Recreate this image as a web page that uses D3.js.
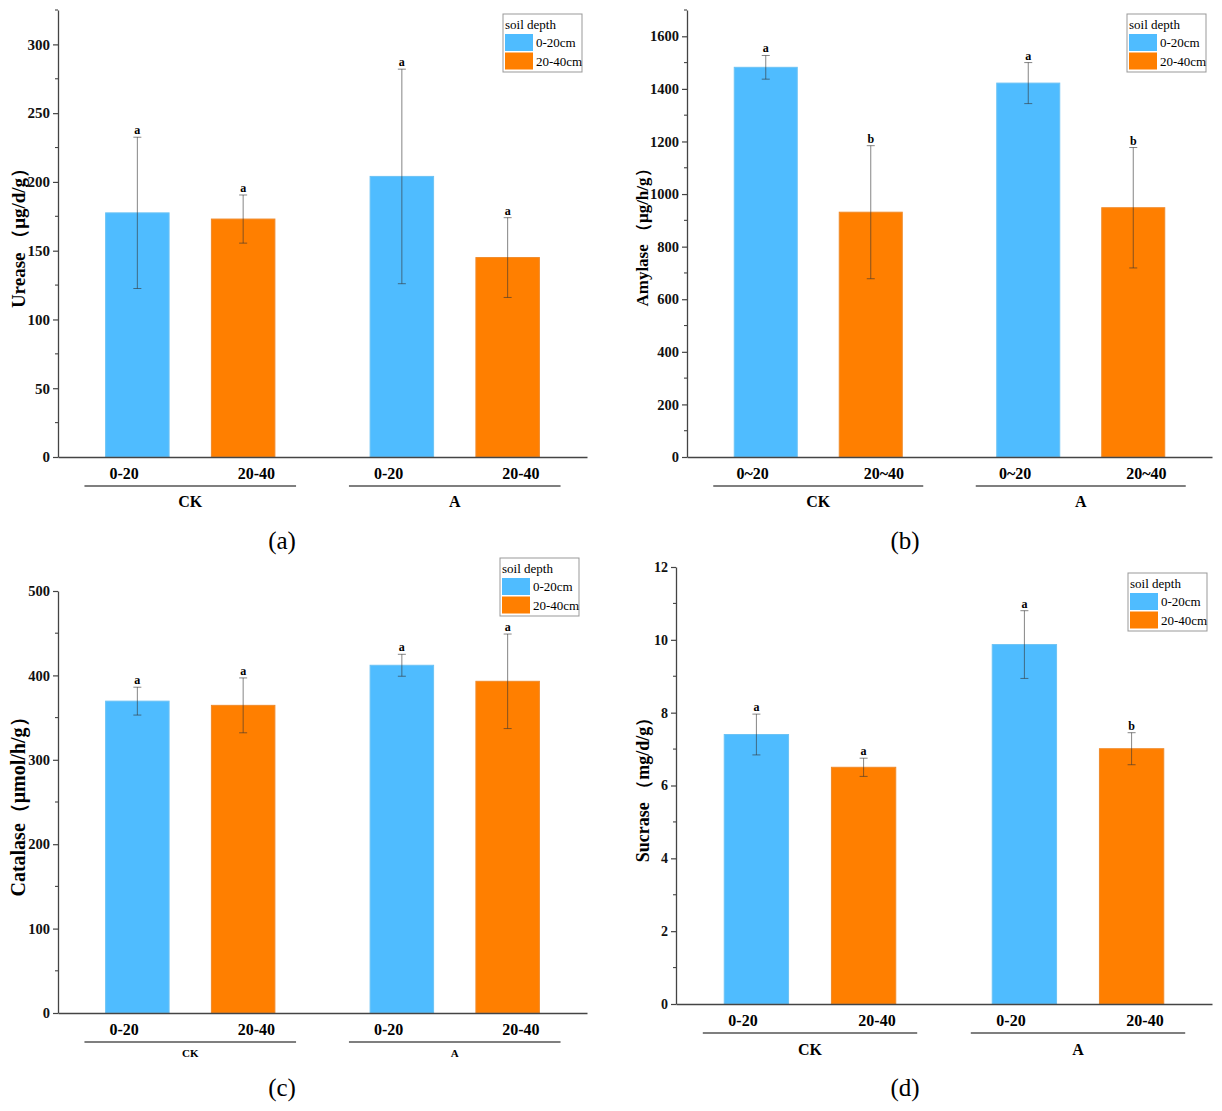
<!DOCTYPE html>
<html>
<head>
<meta charset="utf-8">
<script src="https://cdn.jsdelivr.net/npm/d3@7"></script>
<style>
  body { margin: 0; background: #fff; }
  text { font-family: "Liberation Serif", "Times New Roman", serif; }
</style>
</head>
<body>
<svg id="chart"></svg>
<script>
// categories
const groups = ['CK', 'A'];
const depthDash = ['0-20', '20-40'];
const depthTilde = ['0~20', '20~40'];
const legendLabels = ['0-20cm', '20-40cm'];
const colors = ['#4fbcff', '#ff7f00'];

// bars in order: CK 0-20, CK 20-40, A 0-20, A 20-40
const urease = [177.5, 173, 204, 145];
const ureaseErr = [55, 17.5, 78, 29];
const ureaseSig = ['a', 'a', 'a', 'a'];
const ureaseTicks = [0, 50, 100, 150, 200, 250, 300];

const amylase = [1482, 931, 1422, 948];
const amylaseErr = [45, 253, 78, 229];
const amylaseSig = ['a', 'b', 'a', 'b'];
const amylaseTicks = [0, 200, 400, 600, 800, 1000, 1200, 1400, 1600];

const catalase = [369.5, 364.5, 412, 393];
const catalaseErr = [16.5, 32.5, 13, 56];
const catalaseSig = ['a', 'a', 'a', 'a'];
const catalaseTicks = [0, 100, 200, 300, 400, 500];

const sucrase = [7.4, 6.5, 9.87, 7.01];
const sucraseErr = [0.56, 0.25, 0.93, 0.44];
const sucraseSig = ['a', 'a', 'a', 'b'];
const sucraseTicks = [0, 2, 4, 6, 8, 10, 12];

// slot of each bar along x (two groups of two)
const slots = [0, 1, 2.5, 3.5];

const panels = [
  { values: urease, errs: ureaseErr, sig: ureaseSig, ticks: ureaseTicks, max: 325, minor: 25,
    depth: depthDash, title: 'Urease （μg/d/g）', titleSize: 19, titleDx: -40,
    x0: 58, x1: 587, top: 10, bottom: 457, tickFont: 15,
    legend: [503, 14], caption: ['(a)', 282, 549], groupFont: 16, groupDy: 50 },
  { values: amylase, errs: amylaseErr, sig: amylaseSig, ticks: amylaseTicks, max: 1700, minor: 100,
    depth: depthTilde, title: 'Amylase （μg/h/g）', titleSize: 17, titleDx: -45,
    x0: 687, x1: 1212, top: 10, bottom: 457, tickFont: 14.5,
    legend: [1127, 14], caption: ['(b)', 905, 549], groupFont: 16, groupDy: 50 },
  { values: catalase, errs: catalaseErr, sig: catalaseSig, ticks: catalaseTicks, max: 500, minor: 50,
    depth: depthDash, title: 'Catalase（μmol/h/g）', titleSize: 20, titleDx: -40,
    x0: 58, x1: 587, top: 591, bottom: 1013, tickFont: 14.5,
    legend: [500, 558], caption: ['(c)', 282, 1096], groupFont: 11, groupDy: 44 },
  { values: sucrase, errs: sucraseErr, sig: sucraseSig, ticks: sucraseTicks, max: 12, minor: 1,
    depth: depthDash, title: 'Sucrase （mg/d/g）', titleSize: 18, titleDx: -33,
    x0: 676, x1: 1212, top: 567, bottom: 1004, tickFont: 14,
    legend: [1128, 573], caption: ['(d)', 905, 1096], groupFont: 16, groupDy: 51 }
];

const svg = d3.select('#chart').attr('width', 1222).attr('height', 1111);

panels.forEach(p => {
  const g = svg.append('g');

  const x = d3.scaleLinear().domain([-0.75, 4.25]).range([p.x0, p.x1]);
  const y = d3.scaleLinear().domain([0, p.max]).range([p.bottom, p.top]);
  const unit = x(1) - x(0);
  const barW = unit * 0.6;

  // bars
  g.selectAll('rect.bar')
    .data(p.values)
    .join('rect')
      .attr('class', 'bar')
      .attr('x', (d, i) => x(slots[i]) - barW / 2)
      .attr('y', d => y(d))
      .attr('width', barW)
      .attr('height', d => y(0) - y(d))
      .attr('fill', (d, i) => colors[i % 2])
      .attr('stroke', (d, i) => i % 2 ? '#f08a2a' : '#6cc3f5')
      .attr('stroke-width', 1);

  // error bars
  const eb = g.selectAll('g.err')
    .data(p.values)
    .join('g')
      .attr('class', 'err')
      .attr('stroke', '#333')
      .attr('stroke-opacity', 0.6)
      .attr('stroke-width', 1);
  eb.append('line')
    .attr('x1', (d, i) => x(slots[i])).attr('x2', (d, i) => x(slots[i]))
    .attr('y1', (d, i) => y(d + p.errs[i])).attr('y2', (d, i) => y(d - p.errs[i]));
  [1, -1].forEach(s => {
    eb.append('line')
      .attr('x1', (d, i) => x(slots[i]) - 4).attr('x2', (d, i) => x(slots[i]) + 4)
      .attr('y1', (d, i) => y(d + s * p.errs[i])).attr('y2', (d, i) => y(d + s * p.errs[i]));
  });

  // significance letters
  g.selectAll('text.sig')
    .data(p.values)
    .join('text')
      .attr('class', 'sig')
      .attr('x', (d, i) => x(slots[i]))
      .attr('y', (d, i) => y(d + p.errs[i]) - 3)
      .attr('text-anchor', 'middle')
      .attr('font-size', 12)
      .attr('font-weight', 'bold')
      .text((d, i) => p.sig[i]);

  // y axis
  const yAxis = g.append('g')
    .attr('transform', 'translate(' + p.x0 + ',0)')
    .call(d3.axisLeft(y).tickValues(p.ticks).tickFormat(d3.format('d'))
      .tickSize(5).tickSizeOuter(0).tickPadding(3));
  yAxis.selectAll('text')
    .attr('font-family', '"Liberation Serif", serif')
    .attr('font-weight', 'bold')
    .attr('font-size', p.tickFont)
    .attr('fill', '#111');
  yAxis.select('.domain').attr('stroke', '#444').attr('stroke-width', 1.3);
  yAxis.selectAll('.tick line').attr('stroke', '#444').attr('stroke-width', 1.2);

  // minor ticks
  const minors = d3.range(p.minor, p.max + 1e-9, p.minor).filter(v => !p.ticks.includes(v));
  g.selectAll('line.minor')
    .data(minors)
    .join('line')
      .attr('class', 'minor')
      .attr('x1', p.x0 - 3).attr('x2', p.x0)
      .attr('y1', d => y(d)).attr('y2', d => y(d))
      .attr('stroke', '#444').attr('stroke-width', 1.1);

  // x axis (line only)
  const xAxis = g.append('g')
    .attr('transform', 'translate(0,' + p.bottom + ')')
    .call(d3.axisBottom(x).tickValues([]).tickSizeOuter(0));
  xAxis.select('.domain').attr('stroke', '#444').attr('stroke-width', 1.3);

  // depth labels under bars
  g.selectAll('text.depth')
    .data(slots)
    .join('text')
      .attr('class', 'depth')
      .attr('x', (d, i) => x(d + (i % 2 ? 0.125 : -0.125)))
      .attr('y', p.bottom + 22)
      .attr('text-anchor', 'middle')
      .attr('font-size', 16)
      .attr('font-weight', 'bold')
      .text((d, i) => p.depth[i % 2]);

  // group lines and labels
  const groupCenters = [0.5, 3];
  g.selectAll('line.grp')
    .data(groupCenters)
    .join('line')
      .attr('class', 'grp')
      .attr('x1', d => x(d - 1)).attr('x2', d => x(d + 1))
      .attr('y1', p.bottom + 29).attr('y2', p.bottom + 29)
      .attr('stroke', '#555').attr('stroke-width', 1.3);
  g.selectAll('text.grp')
    .data(groupCenters)
    .join('text')
      .attr('class', 'grp')
      .attr('x', d => x(d))
      .attr('y', p.bottom + p.groupDy)
      .attr('text-anchor', 'middle')
      .attr('font-size', p.groupFont)
      .attr('font-weight', 'bold')
      .text((d, i) => groups[i]);

  // y title
  const cy = (p.top + p.bottom) / 2;
  g.append('text')
    .attr('transform', 'translate(' + (p.x0 + p.titleDx) + ',' + cy + ') rotate(-90)')
    .attr('text-anchor', 'middle')
    .attr('dominant-baseline', 'central')
    .attr('font-size', p.titleSize)
    .attr('font-weight', 'bold')
    .text(p.title);

  // legend
  const lg = g.append('g').attr('transform', 'translate(' + p.legend[0] + ',' + p.legend[1] + ')');
  lg.append('rect')
    .attr('width', 79).attr('height', 58)
    .attr('fill', '#fff').attr('stroke', '#999').attr('stroke-width', 1);
  lg.append('text')
    .attr('x', 2).attr('y', 15)
    .attr('font-size', 13)
    .text('soil depth');
  lg.selectAll('rect.sw')
    .data(legendLabels)
    .join('rect')
      .attr('class', 'sw')
      .attr('x', 2).attr('y', (d, i) => 20 + i * 18.5)
      .attr('width', 28).attr('height', 17)
      .attr('fill', (d, i) => colors[i]);
  lg.selectAll('text.lab')
    .data(legendLabels)
    .join('text')
      .attr('class', 'lab')
      .attr('x', 33).attr('y', (d, i) => 33 + i * 18.5)
      .attr('font-size', 13)
      .text(d => d);

  // panel caption
  svg.append('text')
    .attr('x', p.caption[1]).attr('y', p.caption[2])
    .attr('text-anchor', 'middle')
    .attr('font-size', 25)
    .text(p.caption[0]);
});
</script>
</body>
</html>
